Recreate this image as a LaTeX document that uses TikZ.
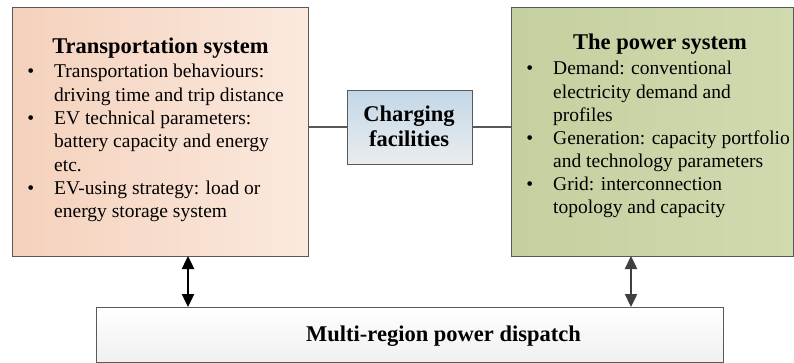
\documentclass[tikz,border=0pt]{standalone}
\usepackage{fontspec}
\setmainfont{Liberation Serif}
\usetikzlibrary{arrows.meta}
\definecolor{edgegray}{HTML}{595959}
\definecolor{salmonL}{HTML}{F4D1BC}
\definecolor{salmonR}{HTML}{FBE9DE}
\definecolor{oliveL}{HTML}{C5D0A0}
\definecolor{oliveR}{HTML}{D0DAAF}
\definecolor{blueT}{HTML}{C3D7E7}
\definecolor{blueB}{HTML}{EBEDEF}
\definecolor{arrowgray}{HTML}{404040}
\newenvironment{bulletlist}{\begin{list}{\textbullet}{\setlength{\leftmargin}{24pt}\setlength{\labelwidth}{10pt}\setlength{\labelsep}{20pt}\setlength{\itemsep}{0pt}\setlength{\parsep}{0pt}\setlength{\topsep}{0pt}\setlength{\partopsep}{0pt}}}{\end{list}}
\tikzset{
  panel/.style={draw=edgegray, line width=1.3pt, inner sep=0pt},
  titletext/.style={font=\fontsize{22.5}{26}\selectfont\bfseries, inner sep=0pt, anchor=base},
  bodytext/.style={inner sep=0pt, anchor=base west},
  link/.style={draw=edgegray, line width=1.8pt},
  biarrow/.style={line width=2.4pt, {Triangle[length=13pt,width=12pt]}-{Triangle[length=13pt,width=12pt]}},
}
\begin{document}
\begin{tikzpicture}[x=1pt,y=-1pt]
\useasboundingbox (0,0) rectangle (794,363);
% panels
\node[panel, left color=salmonL, right color=salmonR, minimum width=296pt, minimum height=249pt, anchor=north west] (trans) at (12,7) {};
\node[panel, left color=oliveL, right color=oliveR, minimum width=282pt, minimum height=249pt, anchor=north west] (power) at (511,7) {};
\node[panel, top color=blueT, bottom color=blueB, minimum width=125pt, minimum height=74pt, anchor=north west] (charge) at (347,90) {};
\node[panel, top color=white, bottom color=black!6, minimum width=627pt, minimum height=55pt, anchor=north west] (dispatch) at (96,307) {};
% titles
\node[titletext] (transtitle) at (160.5,54) {Transportation system};
\node[titletext] (powertitle) at (660,50) {The power system};
\node[titletext] (chargetext1) at (409,121.7) {Charging};
\node[titletext] (chargetext2) at (409,146.7) {facilities};
\node[titletext] (dispatchtext) at (443.5,341.7) {Multi-region power dispatch};
% body lists
\node[bodytext] (translist) at (30,78) {\fontsize{19.5}{23.3}\selectfont\begin{minipage}[t]{275pt}\begin{bulletlist}
\item Transportation behaviours:\newline driving time and trip distance
\item EV technical parameters:\newline battery capacity and energy\newline etc.
\item EV-using strategy: load or\newline energy storage system
\end{bulletlist}\end{minipage}};
\node[bodytext] (powerlist) at (529,75) {\fontsize{19.5}{23.1}\selectfont\begin{minipage}[t]{262pt}\begin{bulletlist}
\item Demand: conventional\newline electricity demand and\newline profiles
\item Generation: capacity portfolio\newline and technology parameters
\item Grid: interconnection\newline topology and capacity
\end{bulletlist}\end{minipage}};
% connectors
\coordinate (c1) at (308,127);
\coordinate (c2) at (511,127);
\draw[link] (c1) -- (charge.west |- c1);
\draw[link] (charge.east |- c2) -- (c2);
\coordinate (la) at (188,256);
\coordinate (ra) at (631,256);
\draw[biarrow, black] (la) -- (la |- dispatch.north);
\draw[biarrow, arrowgray] (ra) -- (ra |- dispatch.north);
\end{tikzpicture}
\end{document}
